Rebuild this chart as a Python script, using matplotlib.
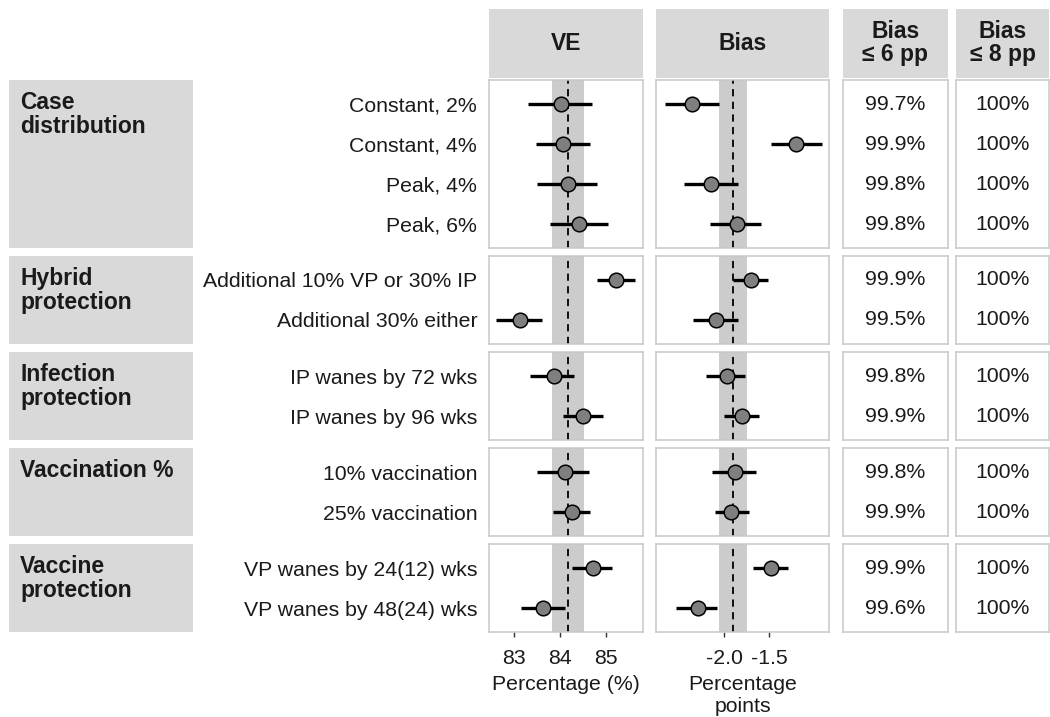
import numpy as np
import matplotlib
matplotlib.use('Agg')
import matplotlib.pyplot as plt

plt.rcParams['font.family'] = ['Liberation Sans', 'DejaVu Sans']
plt.rcParams['axes.unicode_minus'] = False

# scenario groups (left strips) and the scenarios in each group
groups = ['Case\ndistribution', 'Hybrid\nprotection', 'Infection\nprotection',
          'Vaccination %', 'Vaccine\nprotection']
scenarios = [
    ['Constant, 2%', 'Constant, 4%', 'Peak, 4%', 'Peak, 6%'],
    ['Additional 10% VP or 30% IP', 'Additional 30% either'],
    ['IP wanes by 72 wks', 'IP wanes by 96 wks'],
    ['10% vaccination', '25% vaccination'],
    ['VP wanes by 24(12) wks', 'VP wanes by 48(24) wks'],
]

# VE estimates with interval ends (%)
ve_est = [[84.02, 84.07, 84.17, 84.41], [85.22, 83.13], [83.87, 84.49], [84.11, 84.25], [84.72, 83.64]]
ve_lo = [[83.31, 83.47, 83.51, 83.78], [84.80, 82.61], [83.35, 84.06], [83.51, 83.85], [84.25, 83.15]]
ve_hi = [[84.70, 84.65, 84.81, 85.04], [85.63, 83.60], [84.30, 84.93], [84.62, 84.65], [85.12, 84.11]]

# bias estimates with interval ends (percentage points)
bias_est = [[-2.36, -1.20, -2.14, -1.86], [-1.70, -2.09], [-1.97, -1.80], [-1.88, -1.92], [-1.48, -2.29]]
bias_lo = [[-2.66, -1.48, -2.44, -2.16], [-1.90, -2.34], [-2.20, -2.00], [-2.13, -2.10], [-1.68, -2.53]]
bias_hi = [[-2.06, -0.91, -1.85, -1.59], [-1.51, -1.85], [-1.77, -1.61], [-1.64, -1.72], [-1.29, -2.08]]

# share of runs with |bias| under the threshold
share_6pp = [[99.7, 99.9, 99.8, 99.8], [99.9, 99.5], [99.8, 99.9], [99.8, 99.9], [99.9, 99.6]]
share_8pp = [[100, 100, 100, 100], [100, 100], [100, 100], [100, 100], [100, 100]]

# reference value and band drawn in every panel
ve_ref, ve_band = 84.17, (83.82, 84.51)
bias_ref, bias_band = -1.90, (-2.06, -1.75)

col_titles = ['VE', 'Bias', 'Bias\n\u2264 6 pp', 'Bias\n\u2264 8 pp']
ve_ticks, ve_ticklabels = [83, 84, 85], ['83', '84', '85']
bias_ticks, bias_ticklabels = [-2.0, -1.5], ['-2.0', '-1.5']

W, H = 1050, 717
fig = plt.figure(figsize=(W / 100, H / 100), dpi=100)

STRIP = '#d9d9d9'
BORDER = '#c8c8c8'
TXT = '#1a1a1a'
FS = 15.3
FSB = 16.5


def px_axes(x0, y0, x1, y1):
    return fig.add_axes([x0 / W, 1 - y1 / H, (x1 - x0) / W, (y1 - y0) / H])


def blank(ax, face='white'):
    ax.set_facecolor(face)
    ax.set_xticks([])
    ax.set_yticks([])
    for s in ax.spines.values():
        s.set_visible(False)


col_x = [(489, 643), (656, 829), (843, 948), (956, 1049)]
left_x = (9, 193)
top, unit, gap = 80, 40, 8

# column header strips
for (x0, x1), title in zip(col_x, col_titles):
    ax = px_axes(x0, 9, x1, 78)
    blank(ax, STRIP)
    ax.text(0.5, 0.5, title, ha='center', va='center', fontsize=FSB,
            fontweight='bold', color=TXT, linespacing=1.0, transform=ax.transAxes)

y0 = top
ngroups = len(groups)
for g in range(ngroups):
    n = len(scenarios[g])
    y1 = y0 + (n + 0.2) * unit
    ypos = np.arange(1, n + 1)
    last = g == ngroups - 1

    # group strip on the left
    ax = px_axes(left_x[0], y0, left_x[1], y1)
    blank(ax, STRIP)
    ax.text(11 / (left_x[1] - left_x[0]), 1 - 11 / (y1 - y0), groups[g], ha='left', va='top',
            fontsize=FSB, fontweight='bold', color=TXT, linespacing=1.05,
            transform=ax.transAxes)

    panels = [
        (ve_est[g], ve_lo[g], ve_hi[g], ve_ref, ve_band, (82.46, 85.80), ve_ticks, ve_ticklabels,
         'Percentage (%)'),
        (bias_est[g], bias_lo[g], bias_hi[g], bias_ref, bias_band, (-2.756, -0.833), bias_ticks,
         bias_ticklabels, 'Percentage\npoints'),
    ]
    for c, (est, lo, hi, ref, band, xlim, ticks, ticklabels, xlabel) in enumerate(panels):
        ax = px_axes(col_x[c][0], y0, col_x[c][1], y1)
        ax.set_xlim(*xlim)
        ax.set_ylim(n + 0.6, 0.4)
        ax.axvspan(band[0], band[1], color='#cccccc', lw=0, zorder=1)
        ax.axvline(ref, color='black', lw=1.3, ls=(0, (4, 3)), zorder=2)
        ax.hlines(ypos, lo, hi, color='black', lw=2.4, zorder=3)
        ax.plot(est, ypos, 'o', ms=10.5, mfc='#7f7f7f', mec='black', mew=1.1, zorder=4)
        for s in ax.spines.values():
            s.set_color(BORDER)
            s.set_linewidth(1.1)
        if c == 0:
            ax.set_yticks(ypos)
            ax.set_yticklabels(scenarios[g], fontsize=FS, color=TXT)
            ax.tick_params(axis='y', length=0, pad=8.5)
        else:
            ax.set_yticks([])
        if last:
            ax.set_xticks(ticks)
            ax.set_xticklabels(ticklabels, fontsize=FS, color=TXT)
            ax.tick_params(axis='x', length=3.6, width=1, color='#333333', pad=8.5)
            ax.set_xlabel(xlabel, fontsize=FS, color=TXT, labelpad=5, linespacing=1.2)
        else:
            ax.set_xticks([])

    # threshold tables
    for c, vals in ((2, share_6pp[g]), (3, share_8pp[g])):
        ax = px_axes(col_x[c][0], y0, col_x[c][1], y1)
        ax.set_xlim(0, 1)
        ax.set_ylim(n + 0.6, 0.4)
        ax.set_xticks([])
        ax.set_yticks([])
        for s in ax.spines.values():
            s.set_color(BORDER)
            s.set_linewidth(1.1)
        for yi, v in zip(ypos, vals):
            ax.text(0.5, yi, f'{v:g}%', ha='center', va='center', fontsize=FS, color=TXT)

    y0 = y1 + gap

fig.savefig('out.png', dpi=100)
